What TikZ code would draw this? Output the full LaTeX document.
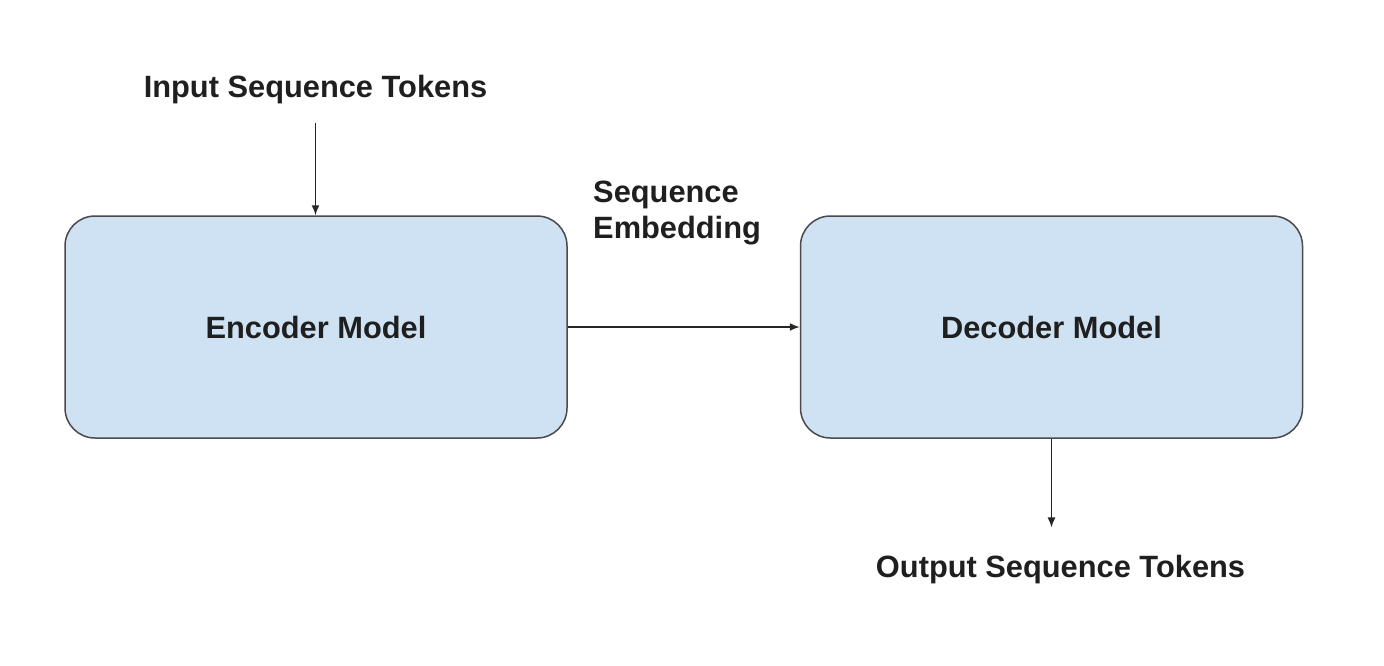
\documentclass[tikz,border=0pt]{standalone}
\usepackage{fontspec}
\setmainfont{Liberation Sans}
\usepackage{xcolor}
\usetikzlibrary{positioning,calc,arrows.meta}
\definecolor{modelblue}{HTML}{CFE2F3}
\definecolor{edgegray}{HTML}{4A4A4A}

\begin{document}
\begin{tikzpicture}[x=1pt,y=-1pt,
    model/.style={draw=edgegray,line width=1.5pt,fill=modelblue,rounded corners=30pt,
                  minimum width=502pt,minimum height=222pt},
    label/.style={inner sep=0pt,font=\fontsize{30.8}{36}\selectfont\bfseries,text=black!88},
    arr/.style={draw=black!85,line width=1.5pt,-{Latex[length=10pt,width=8pt]}}]
    \useasboundingbox (0,0) rectangle (1384,666);

    % Encoder
    \node[model] (enc) at (316,327) {};
    \node[label] at (enc.center) {Encoder Model};
    \node[label,anchor=base] (in) at (315.5,98) {Input Sequence Tokens};
    \draw[arr,shorten <=18pt] (in.south) -- (in.south |- enc.north);

    % Decoder
    \node[model] (dec) at (1051.5,327) {};
    \node[label] at (dec.center) {Decoder Model};
    \node[label,anchor=base] (out) at (1060.5,577) {Output Sequence Tokens};
    \draw[arr,shorten >=27pt] (dec.south) -- (dec.south |- out.north);

    % Embedding
    \node[label,align=left,anchor=west] (emb) at (593,213) {Sequence\\Embedding};
    \draw[arr] (enc.east) -- (dec.west);
\end{tikzpicture}
\end{document}
